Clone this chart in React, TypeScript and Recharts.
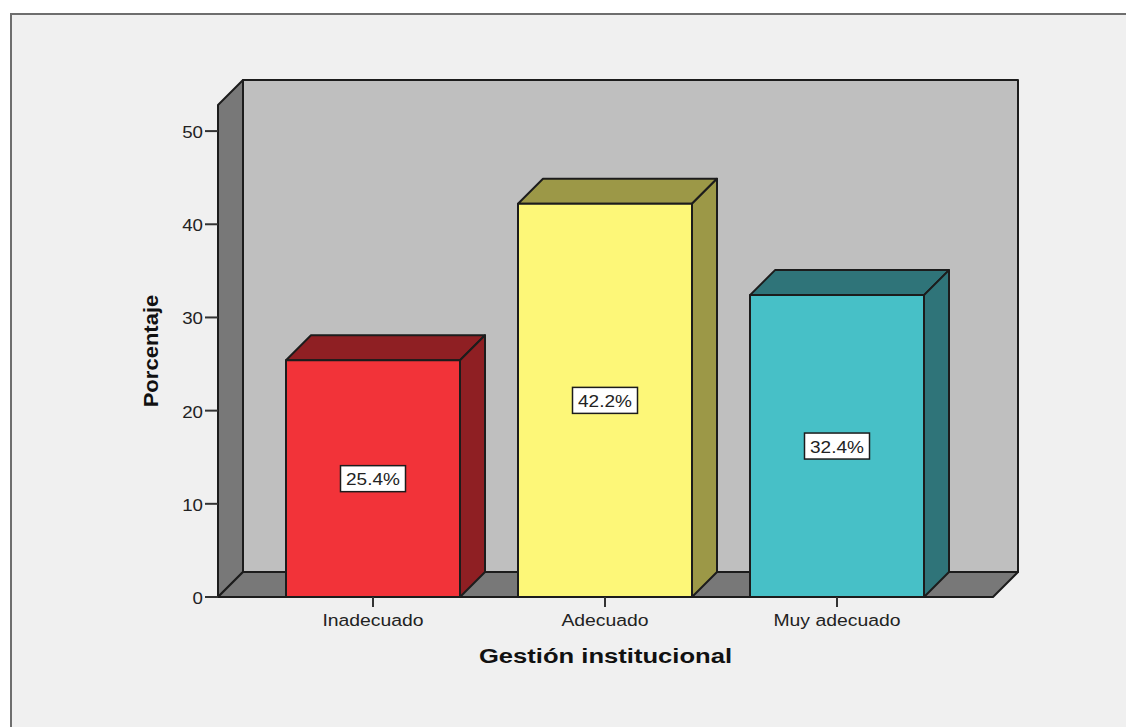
import { BarChart, Bar, XAxis, YAxis, LabelList, usePlotArea } from "recharts";

const categories = ["Inadecuado", "Adecuado", "Muy adecuado"];
const percentages = [25.4, 42.2, 32.4];
const yTicks = [0, 10, 20, 30, 40, 50];

const frontColors = ["#f23339", "#fdf778", "#47c0c7"];
const sideColors = ["#8f1f23", "#9c9847", "#2f7479"];

const xTitle = "Gestión institucional";
const yTitle = "Porcentaje";

const DEPTH = 25;
const EDGE = "#1c1c1c";
const FONT = "'Liberation Sans', Arial, sans-serif";

const chartData = categories.map((name, i) => ({ name, value: percentages[i] }));

// back wall, left wall and floor of the 3D box
function Walls() {
  const plot = usePlotArea();
  if (!plot) return null;
  const { x, y, width, height } = plot;
  const bottom = y + height;
  return (
    <g stroke={EDGE} strokeWidth={2} strokeLinejoin="round">
      <rect x={x + DEPTH} y={y - DEPTH} width={width} height={height} fill="#bfbfbf" />
      <polygon
        points={`${x},${y} ${x + DEPTH},${y - DEPTH} ${x + DEPTH},${bottom - DEPTH} ${x},${bottom}`}
        fill="#787878"
      />
      <polygon
        points={`${x},${bottom} ${x + DEPTH},${bottom - DEPTH} ${x + width + DEPTH},${bottom - DEPTH} ${x + width},${bottom}`}
        fill="#787878"
      />
    </g>
  );
}

function Bar3D(props: any) {
  const { x, y, width, height, index } = props;
  const right = x + width;
  const bottom = y + height;
  return (
    <g stroke={EDGE} strokeWidth={2} strokeLinejoin="round">
      <polygon
        points={`${x},${y} ${x + DEPTH},${y - DEPTH} ${right + DEPTH},${y - DEPTH} ${right},${y}`}
        fill={sideColors[index]}
      />
      <polygon
        points={`${right},${y} ${right + DEPTH},${y - DEPTH} ${right + DEPTH},${bottom - DEPTH} ${right},${bottom}`}
        fill={sideColors[index]}
      />
      <rect x={x} y={y} width={width} height={height} fill={frontColors[index]} />
    </g>
  );
}

function ValueBox(props: any) {
  const { x, y, width, height, value } = props;
  const cx = x + width / 2;
  const cy = y + height / 2;
  return (
    <g>
      <rect x={cx - 32.5} y={cy - 13} width={65} height={26} fill="#ffffff" stroke={EDGE} strokeWidth={1.5} />
      <text
        transform={`translate(${cx},${cy + 6.5}) scale(1.12,1)`}
        textAnchor="middle"
        fontFamily={FONT}
        fontSize={17}
        fill="#222222"
      >
        {value.toFixed(1)}%
      </text>
    </g>
  );
}

function XTick(props: any) {
  const { x, y, payload } = props;
  return (
    <text
      transform={`translate(${x},${y + 17}) scale(1.14,1)`}
      textAnchor="middle"
      fontFamily={FONT}
      fontSize={17}
      fill="#222222"
    >
      {payload.value}
    </text>
  );
}

function YTick(props: any) {
  const { x, y, payload } = props;
  return (
    <text
      transform={`translate(${x},${y + 7}) scale(1.1,1)`}
      textAnchor="end"
      fontFamily={FONT}
      fontSize={17}
      fill="#222222"
    >
      {payload.value}
    </text>
  );
}

function AxisTitles() {
  const plot = usePlotArea();
  if (!plot) return null;
  const { x, y, width, height } = plot;
  return (
    <g fontFamily={FONT} fontWeight="bold" fill="#111111">
      <text
        transform={`translate(${x + width / 2},${y + height + 66}) scale(1.22,1)`}
        textAnchor="middle"
        fontSize={21}
      >
        {xTitle}
      </text>
      <text
        transform={`translate(158,${y + height / 2}) rotate(-90) scale(1.05,1)`}
        textAnchor="middle"
        fontSize={21}
      >
        {yTitle}
      </text>
    </g>
  );
}

export default function App() {
  return (
    <div style={{ position: "absolute", left: 0, top: 0, width: 1126, height: 727, background: "#ffffff", overflow: "hidden" }}>
      <div
        style={{
          position: "absolute",
          left: 10,
          top: 13,
          width: 1116,
          height: 714,
          boxSizing: "border-box",
          background: "#f0f0f0",
          borderLeft: "2px solid #6e6e6e",
          borderTop: "2px solid #6e6e6e",
        }}
      />
      <div style={{ position: "absolute", left: 0, top: 0 }}>
        <BarChart
          width={1126}
          height={727}
          data={chartData}
          margin={{ top: 105, right: 133, bottom: 90, left: 178 }}
          barSize={174}
        >
          <Walls />
          <XAxis
            dataKey="name"
            height={40}
            axisLine={false}
            tickLine={{ stroke: "#333333", strokeWidth: 2 }}
            tickSize={10}
            tickMargin={2}
            padding={{ left: 39, right: 40 }}
            interval={0}
            tick={<XTick />}
          />
          <YAxis
            width={40}
            domain={[0, 52.8]}
            ticks={yTicks}
            axisLine={false}
            tickLine={{ stroke: "#333333", strokeWidth: 2 }}
            tickSize={13}
            tickMargin={2}
            tick={<YTick />}
          />
          <Bar dataKey="value" shape={<Bar3D />} isAnimationActive={false}>
            <LabelList dataKey="value" content={<ValueBox />} />
          </Bar>
          <AxisTitles />
        </BarChart>
      </div>
    </div>
  );
}
